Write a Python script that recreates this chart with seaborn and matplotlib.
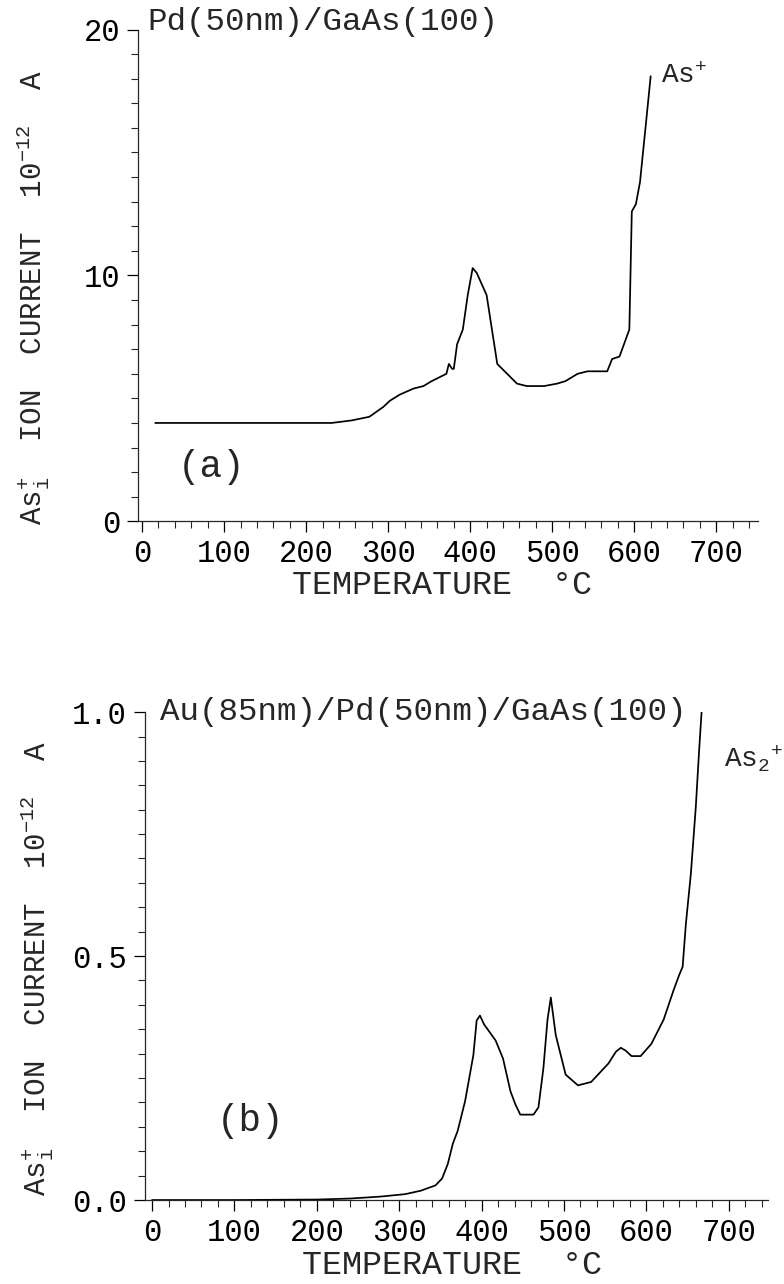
import numpy as np
import pandas as pd
import matplotlib
matplotlib.use("Agg")
import matplotlib.pyplot as plt
from matplotlib.ticker import MultipleLocator, FormatStrFormatter
import seaborn as sns

# ---------------------------
# data
# ---------------------------
temp_a = [16, 100, 200, 231, 255, 277, 294, 302, 314, 331, 343, 353, 365,
          371, 374, 378, 380, 384, 391, 397, 403, 408, 420, 433, 445, 457, 469,
          490, 506, 516, 531, 543, 567, 573, 582, 594, 597, 602, 607, 614, 620]
current_a = [4.0, 4.0, 4.0, 4.0, 4.1, 4.25, 4.65, 4.9, 5.15, 5.4, 5.5, 5.7, 5.9,
             6.0, 6.4, 6.2, 6.2, 7.2, 7.8, 9.2, 10.3, 10.1, 9.2, 6.4, 6.0, 5.6, 5.5,
             5.5, 5.6, 5.7, 6.0, 6.1, 6.1, 6.6, 6.7, 7.8, 12.6, 12.9, 13.8, 16.1, 18.1]

temp_b = [0, 100, 200, 240, 277, 307, 326, 344, 352, 359, 365, 371, 380, 390, 394,
          398, 403, 417, 426, 435, 441, 447, 463, 469, 475, 480, 484, 490, 502, 517,
          533, 554, 563, 569, 575, 582, 593, 606, 621, 627, 633, 640, 644, 648, 654,
          660, 664, 667]
current_b = [0.0, 0.0, 0.001, 0.003, 0.007, 0.012, 0.019, 0.03, 0.044, 0.074, 0.115,
             0.142, 0.203, 0.297, 0.368, 0.378, 0.36, 0.327, 0.29, 0.223, 0.196, 0.175,
             0.175, 0.19, 0.27, 0.37, 0.415, 0.338, 0.257, 0.235, 0.242, 0.28, 0.304,
             0.312, 0.306, 0.295, 0.295, 0.32, 0.37, 0.4, 0.43, 0.462, 0.478, 0.567,
             0.669, 0.806, 0.921, 1.0]

titles = ["Pd(50nm)/GaAs(100)", "Au(85nm)/Pd(50nm)/GaAs(100)"]
panel_tags = ["(a)", "(b)"]
ion_labels = [r"As$^{+}$", r"As$_{2}{}^{+}$"]
ylabel = r"As$_{\mathrm{i}}^{+}$  ION  CURRENT  10$^{-12}$  A"
xlabel = "TEMPERATURE  °C"
xtick_vals = list(range(0, 800, 100))

# ---------------------------
# style
# ---------------------------
sns.set_style("ticks")
plt.rcParams["font.family"] = ["Liberation Mono", "DejaVu Sans"]
plt.rcParams["mathtext.fontset"] = "custom"
plt.rcParams["mathtext.rm"] = "Liberation Mono"
plt.rcParams["mathtext.it"] = "Liberation Mono"
plt.rcParams["mathtext.bf"] = "Liberation Mono"

fig = plt.figure(figsize=(7.84, 12.84), dpi=100)
ax_a = fig.add_axes([0.176, 0.594, 0.791, 0.383])
ax_b = fig.add_axes([0.185, 0.0654, 0.795, 0.380])

df_a = pd.DataFrame({"T": temp_a, "I": current_a})
df_b = pd.DataFrame({"T": temp_b, "I": current_b})

sns.lineplot(data=df_a, x="T", y="I", ax=ax_a, color="black", lw=1.25,
             estimator=None, sort=False)
sns.lineplot(data=df_b, x="T", y="I", ax=ax_b, color="black", lw=1.25,
             estimator=None, sort=False)

ax_a.set_ylim(0, 20)
ax_b.set_ylim(0, 1.0)

ax_a.yaxis.set_major_locator(MultipleLocator(10))
ax_a.yaxis.set_minor_locator(MultipleLocator(1))
ax_b.yaxis.set_major_locator(MultipleLocator(0.5))
ax_b.yaxis.set_minor_locator(MultipleLocator(0.05))
ax_b.yaxis.set_major_formatter(FormatStrFormatter("%.1f"))

for ax in (ax_a, ax_b):
    ax.xaxis.set_minor_locator(MultipleLocator(20))
    ax.set_xticks(xtick_vals)
    ax.set_xticklabels([str(v) for v in xtick_vals])
    sns.despine(ax=ax)
    for s in ("left", "bottom"):
        ax.spines[s].set_linewidth(0.9)
    ax.tick_params(which="major", direction="out", length=8, width=0.9,
                   labelsize=22, pad=5, color="black", labelcolor="black")
    ax.tick_params(which="minor", direction="out", length=5, width=0.8)
    ax.set_xlabel(xlabel, fontsize=24, va="center")
    ax.set_ylabel(ylabel, fontsize=21, va="center")

ax_a.set_xlim(-5, 751)
ax_b.set_xlim(-8.5, 748)

ax_a.xaxis.set_label_coords(0.49, -0.13)
ax_a.yaxis.set_label_coords(-0.169, 0.456)
ax_b.xaxis.set_label_coords(0.493, -0.135)
ax_b.yaxis.set_label_coords(-0.173, 0.475)

# titles inside the frame, upper left
ax_a.text(6, 20.3, titles[0], fontsize=23.4, va="center", ha="left", clip_on=False)
ax_b.text(10, 1.0, titles[1], fontsize=23.4, va="center", ha="left", clip_on=False)

# panel tags
ax_a.text(85, 2.2, panel_tags[0], fontsize=27, va="center", ha="center")
ax_b.text(120, 0.162, panel_tags[1], fontsize=27, va="center", ha="center")

# ion labels next to the curve ends
ax_a.text(632, 18.1, ion_labels[0], fontsize=20, va="center", ha="left", clip_on=False)
ax_b.text(694, 0.905, ion_labels[1], fontsize=20, va="center", ha="left", clip_on=False)

fig.savefig("out.png", dpi=100)
